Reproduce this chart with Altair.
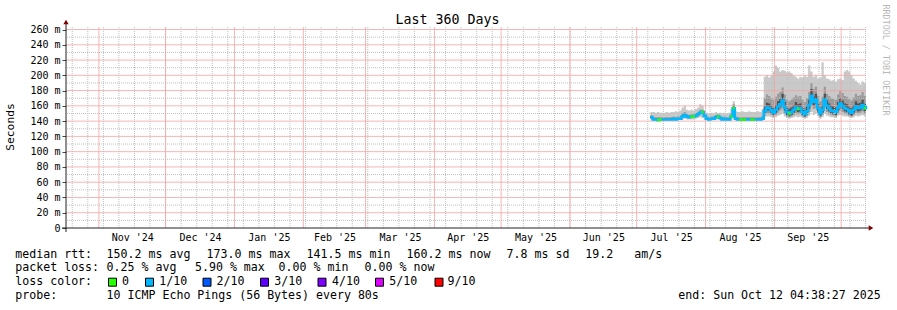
import altair as alt
import pandas as pd

# ---------------- data ----------------
median_jul = [145, 142, 142, 141.5, 142, 142, 142, 142, 142, 142, 143, 142, 143, 143, 146, 148, 146, 145, 146, 146, 147, 149, 151, 152, 147]
median_aug = [143, 142, 143, 143, 145, 146, 144, 142, 143, 142, 142, 146, 157, 143, 142, 142, 142, 142, 142, 142, 142, 142, 142, 142, 142, 143, 153, 158, 157, 154, 151]
median_sep = [155, 159, 162, 167, 158, 152, 150, 152, 155, 158, 156, 157, 152, 149, 153, 161, 173, 165, 168, 157, 150, 155, 168, 160, 157, 154, 153, 152, 158, 163]
median_oct = [160, 157, 156, 153, 151, 155, 159, 157, 158, 161, 157, 160]

high_jul = [152, 152, 151, 152, 151, 151, 151, 152, 151, 152, 152, 153, 152, 154, 158, 160, 155, 154, 155, 154, 156, 158, 162, 160, 154]
high_aug = [151, 150, 151, 150, 152, 150, 151, 150, 151, 150, 151, 156, 166, 153, 152, 152, 153, 152, 152, 153, 152, 152, 152, 153, 152, 156, 198, 200, 197, 200, 205]
high_sep = [213, 210, 205, 207, 206, 204, 205, 203, 200, 198, 196, 198, 197, 200, 198, 213, 205, 198, 200, 196, 197, 217, 200, 196, 195, 193, 194, 192, 195, 196]
high_oct = [194, 205, 207, 205, 200, 196, 193, 190, 188, 192, 190, 188]

low_jul = [142, 141, 141, 140, 141, 141, 141, 141, 141, 141, 141, 141, 141, 141, 142, 143, 142, 142, 142, 142, 143, 144, 145, 144, 141]
low_aug = [141, 141, 141, 141, 142, 142, 141, 141, 141, 141, 141, 142, 146, 141, 141, 141, 141, 141, 141, 141, 141, 141, 141, 141, 141, 141, 145, 146, 146, 145, 144]
low_sep = [145, 147, 148, 150, 146, 144, 143, 144, 145, 146, 145, 146, 144, 143, 144, 147, 152, 148, 150, 146, 143, 145, 150, 147, 146, 145, 145, 144, 147, 148]
low_oct = [147, 146, 146, 145, 144, 145, 147, 146, 147, 148, 146, 147]

mhi_jul = [148, 145, 145, 145, 145, 145, 145, 145, 145, 145, 146, 145, 146, 146, 150, 152, 149, 148, 149, 149, 150, 152, 155, 155, 150]
mhi_aug = [146, 145, 146, 146, 148, 149, 147, 145, 146, 145, 145, 150, 162, 146, 145, 145, 145, 145, 145, 145, 145, 145, 145, 145, 145, 147, 170, 175, 173, 170, 168]
mhi_sep = [172, 176, 178, 184, 175, 168, 166, 168, 171, 174, 172, 173, 168, 165, 170, 178, 190, 182, 185, 173, 166, 172, 185, 176, 173, 170, 169, 168, 175, 180]
mhi_oct = [177, 173, 172, 169, 167, 171, 176, 173, 174, 178, 173, 176]

mlo_jul = [143, 141, 141, 141, 141, 141, 141, 141, 141, 141, 142, 141, 142, 142, 144, 146, 144, 143, 144, 144, 145, 147, 149, 149, 145]
mlo_aug = [142, 141, 142, 142, 143, 144, 142, 141, 142, 141, 141, 144, 152, 142, 141, 141, 141, 141, 141, 141, 141, 141, 141, 141, 141, 142, 147, 150, 150, 148, 146]
mlo_sep = [148, 151, 154, 158, 150, 146, 145, 146, 148, 150, 149, 150, 146, 145, 147, 152, 162, 156, 158, 150, 145, 148, 158, 152, 150, 148, 147, 146, 151, 154]
mlo_oct = [152, 150, 149, 147, 146, 148, 151, 150, 151, 153, 150, 152]

dhi_jul = [146, 143, 143, 143, 143, 143, 143, 143, 143, 143, 144, 143, 144, 144, 147, 149, 147, 146, 147, 147, 148, 150, 152, 153, 148]
dhi_aug = [144, 143, 144, 144, 146, 147, 145, 143, 144, 143, 143, 147, 159, 144, 143, 143, 143, 143, 143, 143, 143, 143, 143, 143, 143, 144, 159, 164, 163, 160, 157]
dhi_sep = [161, 166, 169, 176, 165, 158, 156, 158, 161, 165, 162, 163, 158, 155, 159, 168, 182, 172, 176, 163, 156, 161, 176, 167, 163, 160, 159, 158, 165, 170]
dhi_oct = [167, 163, 162, 159, 157, 161, 166, 163, 164, 168, 163, 166]

dlo_jul = [144, 141.5, 141.5, 141, 141.5, 141.5, 141.5, 141.5, 141.5, 141.5, 142.5, 141.5, 142.5, 142.5, 145, 147, 145, 144, 145, 145, 146, 148, 150, 151, 146]
dlo_aug = [142, 141.5, 142, 142, 144, 145, 143, 141.5, 142, 141.5, 141.5, 145, 155, 142, 141.5, 141.5, 141.5, 141.5, 141.5, 141.5, 141.5, 141.5, 141.5, 141.5, 141.5, 142, 150, 154, 154, 151, 148]
dlo_sep = [151, 155, 158, 162, 154, 148, 147, 148, 151, 154, 152, 153, 148, 146, 149, 156, 167, 160, 163, 153, 147, 151, 163, 156, 153, 150, 149, 148, 154, 158]
dlo_oct = [156, 153, 152, 149, 147, 151, 155, 153, 154, 157, 153, 156]

loss_jul = [1, 1, 1, 0, 0, 1, 1, 1, 1, 1, 1, 1, 1, 1, 1, 1, 1, 1, 0, 0, 1, 1, 1, 0, 1]
loss_aug = [1, 1, 1, 1, 1, 0, 1, 1, 1, 1, 1, 0, 0, 1, 1, 0, 0, 0, 1, 1, 0, 0, 1, 1, 1, 1, 1, 1, 1, 1, 1]
loss_sep = [1, 1, 1, 1, 1, 1, 0, 1, 1, 1, 0, 1, 1, 1, 1, 1, 1, 1, 1, 1, 1, 1, 1, 1, 1, 1, 1, 1, 1, 1]
loss_oct = [1, 1, 1, 1, 1, 1, 1, 1, 1, 1, 0, 1]

y_ticks = [0, 20, 40, 60, 80, 100, 120, 140, 160, 180, 200, 220, 240, 260]
y_minor = [10, 30, 50, 70, 90, 110, 130, 150, 170, 190, 210, 230, 250]
y_major = [20, 40, 60, 80, 100, 120, 140, 160, 180, 200, 220, 240, 260]

legend_colors = ["#26ff00", "#00b8ff", "#0059ff", "#5e00ff", "#7e00ff", "#dd00ff", "#ff0000"]
legend_labels = ["0", "1/10", "2/10", "3/10", "4/10", "5/10", "9/10"]

title_text = "Last 360 Days"
ytitle_text = "Seconds"
watermark = "RRDTOOL / TOBI OETIKER"

legend_rows = [
    # (text, x, y) in pixels relative to the plot origin
    ("median rtt:", -50.7, 227.6), ("150.2 ms avg", 40.6, 227.6), ("173.0 ms max", 140.6, 227.6),
    ("141.5 ms min", 240.6, 227.6), ("160.2 ms now", 340.6, 227.6), ("7.8 ms sd", 440.6, 227.6),
    ("19.2", 519.3, 227.6), ("am/s", 568.3, 227.6),
    ("packet loss:", -50.7, 241.4), ("0.25 % avg", 40.6, 241.4), ("5.90 % max", 129.0, 241.4),
    ("0.00 % min", 212.6, 241.4), ("0.00 % now", 298.6, 241.4),
    ("loss color:", -50.7, 255.4),
    ("probe:", -50.7, 269.4), ("10 ICMP Echo Pings (56 Bytes) every 80s", 40.6, 269.4),
    ("end: Sun Oct 12 04:38:27 2025", 612.3, 269.4),
]
box_x = [46.5, 83.5, 141.0, 198.5, 256.0, 313.5, 373.0]
box_label_x = [56.0, 93.3, 150.6, 208.3, 266.0, 323.3, 381.6]
box_y = 255.2

# ---------------- build tables ----------------
median = median_jul + median_aug + median_sep + median_oct
high = high_jul + high_aug + high_sep + high_oct
low = low_jul + low_aug + low_sep + low_oct
mhi = mhi_jul + mhi_aug + mhi_sep + mhi_oct
mlo = mlo_jul + mlo_aug + mlo_sep + mlo_oct
dhi = dhi_jul + dhi_aug + dhi_sep + dhi_oct
dlo = dlo_jul + dlo_aug + dlo_sep + dlo_oct
loss = loss_jul + loss_aug + loss_sep + loss_oct

dates = pd.date_range("2025-07-07 04:00", periods=len(median), freq="D")
tstr = [d.strftime("%Y-%m-%dT%H:%M:%S") for d in dates]
df = pd.DataFrame({"t": tstr, "median": median, "high": high, "low": low,
                   "mhi": mhi, "mlo": mlo, "dhi": dhi, "dlo": dlo, "loss": loss})
df["t_next"] = df["t"].shift(-1)
green = df[(df["loss"] == 0) & df["t_next"].notna()]

weeks = [d.strftime("%Y-%m-%dT%H:%M:%S") for d in pd.date_range("2024-10-20", "2025-10-12", freq="7D")]
months = [d.strftime("%Y-%m-%dT%H:%M:%S") for d in pd.date_range("2024-11-01", "2025-10-01", freq="MS")]
wk_df = pd.DataFrame({"t": weeks})
mo_df = pd.DataFrame({"t": months})
ymin_df = pd.DataFrame({"v": y_minor})
ymaj_df = pd.DataFrame({"v": y_major})

label_vals = [
    alt.DateTime(year=2024, month=11, date=16),
    alt.DateTime(year=2024, month=12, date=16, hours=12),
    alt.DateTime(year=2025, month=1, date=16, hours=12),
    alt.DateTime(year=2025, month=2, date=15),
    alt.DateTime(year=2025, month=3, date=16, hours=12),
    alt.DateTime(year=2025, month=4, date=16),
    alt.DateTime(year=2025, month=5, date=16, hours=12),
    alt.DateTime(year=2025, month=6, date=16),
    alt.DateTime(year=2025, month=7, date=16, hours=12),
    alt.DateTime(year=2025, month=8, date=16, hours=12),
    alt.DateTime(year=2025, month=9, date=16),
]

FONT = "DejaVu Sans Mono"
xscale = alt.Scale(domain=[alt.DateTime(year=2024, month=10, date=17, hours=4, minutes=38, seconds=27),
                           alt.DateTime(year=2025, month=10, date=12, hours=4, minutes=38, seconds=27)])
yscale = alt.Scale(domain=[0, 263.3], nice=False, zero=True)

X_AXIS = alt.Axis(values=label_vals, format="%b '%y", labelFont=FONT, labelFontSize=10,
                  labelColor="#000000", ticks=False, domain=False, grid=False,
                  labelPadding=4, labelAngle=0, title=None)
Y_AXIS = alt.Axis(values=y_ticks, labelExpr="datum.value == 0 ? '0' : datum.value + ' m'",
                  labelFont=FONT, labelFontSize=10, labelColor="#000000", tickSize=4,
                  tickColor="#444444", domain=False, grid=False, labelPadding=2, title=None)


def X(field):
    return alt.X(field, scale=xscale, axis=X_AXIS)


def Y(field):
    return alt.Y(field, scale=yscale, axis=Y_AXIS)


# ---------------- layers ----------------
smoke_light = alt.Chart(df).mark_area(color="#c9c9c9", interpolate="step-after").encode(
    x=X("t:T"), y=Y("low:Q"), y2="high:Q")
smoke_mid = alt.Chart(df).mark_area(color="#9b9b9b", interpolate="step-after").encode(
    x=X("t:T"), y=Y("mlo:Q"), y2="mhi:Q")
smoke_dark = alt.Chart(df).mark_area(color="#4f4f4f", interpolate="step-after").encode(
    x=X("t:T"), y=Y("dlo:Q"), y2="dhi:Q")

grid_wk = alt.Chart(wk_df).mark_rule(stroke="#c0c0c0", strokeDash=[1, 1], strokeWidth=1).encode(x=X("t:T"))
grid_ymin = alt.Chart(ymin_df).mark_rule(stroke="#c0c0c0", strokeDash=[1, 1], strokeWidth=1).encode(y=Y("v:Q"))
grid_mo = alt.Chart(mo_df).mark_rule(stroke="#f4a4a4", strokeWidth=1, opacity=0.8).encode(x=X("t:T"))
grid_ymaj = alt.Chart(ymaj_df).mark_rule(stroke="#f4a4a4", strokeWidth=1, opacity=0.8).encode(y=Y("v:Q"))

med_line = alt.Chart(df).mark_line(color="#00b8ff", strokeWidth=2.5, interpolate="step-after").encode(
    x=X("t:T"), y=Y("median:Q"))
med_green = alt.Chart(green).mark_rule(color="#26ff00", strokeWidth=2.5).encode(
    x=X("t:T"), x2="t_next:T", y=Y("median:Q"))

anchor = pd.DataFrame({"a": [0]})
y_axis_line = alt.Chart(anchor).mark_rule(color="#222222", strokeWidth=1).encode(
    x=alt.value(0), y=alt.value(-4), y2=alt.value(205))
x_axis_line = alt.Chart(anchor).mark_rule(color="#222222", strokeWidth=1).encode(
    x=alt.value(-4), x2=alt.value(803), y=alt.value(201))
arrow_up = alt.Chart(anchor).mark_point(shape="triangle-up", filled=True, color="#7f0000", size=28, opacity=1).encode(
    x=alt.value(0), y=alt.value(-5))
arrow_right = alt.Chart(anchor).mark_point(shape="triangle-right", filled=True, color="#7f0000", size=28, opacity=1).encode(
    x=alt.value(805), y=alt.value(201))


def txt(s, x, y, size=11.6, color="#000000", angle=0, align="left"):
    return alt.Chart(anchor).mark_text(text=s, font=FONT, fontSize=size, color=color, angle=angle,
                                       align=align, baseline="middle").encode(x=alt.value(x), y=alt.value(y))


texts = [
    txt(title_text, 381.5, -7, size=13.3, align="center"),
    txt(ytitle_text, -55, 100, size=11.3, angle=270, align="center"),
    txt(watermark, 820, 33, size=8.4, color="#b8b8b8", angle=90, align="center"),
]
texts += [txt(s, x, y) for (s, x, y) in legend_rows]

boxes = []
for col, lab, bx, lx in zip(legend_colors, legend_labels, box_x, box_label_x):
    boxes.append(alt.Chart(anchor).mark_square(size=64, fill=col, stroke="#000000", strokeWidth=1, opacity=1)
                 .encode(x=alt.value(bx), y=alt.value(box_y)))
    boxes.append(txt(lab, lx, box_y))

chart = alt.layer(
    smoke_light, smoke_mid, smoke_dark,
    grid_wk, grid_ymin, grid_mo, grid_ymaj,
    med_line, med_green,
    y_axis_line, x_axis_line, arrow_up, arrow_right,
    *texts, *boxes,
).properties(
    width=800, height=201,
    autosize=alt.AutoSizeParams(type="none"),
    padding={"left": 66, "top": 27, "right": 31, "bottom": 82},
    background="#ffffff",
).configure_view(stroke=None)

chart.save("out.html", embed_options={"renderer": "svg", "actions": False})
